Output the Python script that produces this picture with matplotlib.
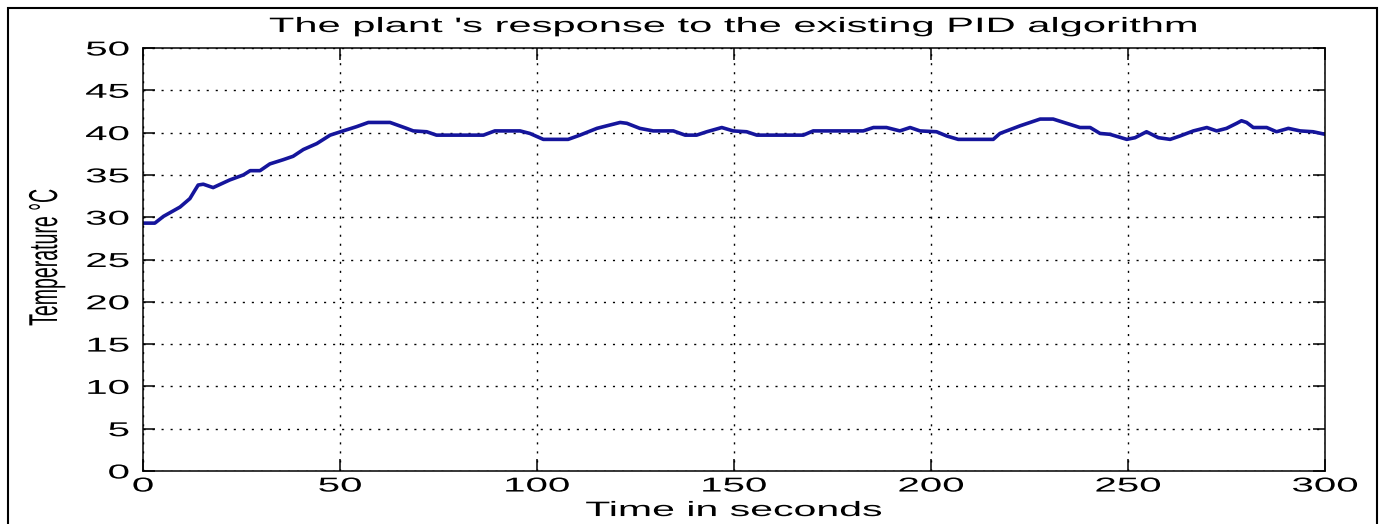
import matplotlib
matplotlib.use("Agg")
import matplotlib.pyplot as plt
import matplotlib.patheffects as pe
from matplotlib.transforms import Affine2D
from matplotlib.patches import Rectangle

# ---- data ----
time_s = [0, 3, 5.2, 9.4, 11.9, 13.2, 14, 15.3, 17.8, 22,
          25.5, 27.2, 29.7, 32.2, 35.6, 38.1, 40.7, 44.1, 47.5, 50.8,
          54.2, 57.2, 62.7, 66.9, 68.6, 72, 74.5, 86.4, 89.3, 95.7,
          98.2, 101.6, 107.9, 110.9, 115.2, 117.7, 121.1, 122.8, 126.1, 129.5,
          134.6, 137.6, 140.5, 143.1, 146.9, 149.8, 153.2, 155.8, 167.6, 170.1,
          182.8, 185.4, 188.7, 192.1, 194.7, 197.2, 201.4, 204, 206.9, 215.8,
          217.5, 222.6, 227.7, 231, 234.4, 237.8, 240.4, 242.9, 245.4, 249.7,
          251.8, 254.7, 257.7, 260.7, 263.2, 266.6, 270, 272.5, 275, 277.6,
          278.8, 280.1, 281.8, 285.2, 287.7, 290.7, 293.7, 297, 300]
temperature = [29.3, 29.3, 30.1, 31.2, 32.2, 33.2, 33.8, 33.9, 33.5, 34.4,
               35.0, 35.5, 35.5, 36.3, 36.8, 37.2, 38.0, 38.7, 39.7, 40.2,
               40.7, 41.2, 41.2, 40.5, 40.2, 40.1, 39.7, 39.7, 40.2, 40.2,
               39.9, 39.2, 39.2, 39.7, 40.5, 40.8, 41.2, 41.1, 40.5, 40.2,
               40.2, 39.7, 39.7, 40.1, 40.6, 40.2, 40.1, 39.7, 39.7, 40.2,
               40.2, 40.6, 40.6, 40.2, 40.6, 40.2, 40.1, 39.6, 39.2, 39.2,
               39.9, 40.8, 41.6, 41.6, 41.1, 40.6, 40.6, 39.9, 39.8, 39.2,
               39.4, 40.1, 39.4, 39.2, 39.6, 40.2, 40.6, 40.2, 40.5, 41.1,
               41.4, 41.2, 40.6, 40.6, 40.1, 40.5, 40.2, 40.1, 39.8]
x_ticks = [0, 50, 100, 150, 200, 250, 300]
y_ticks = [0, 5, 10, 15, 20, 25, 30, 35, 40, 45, 50]
title_text = "The plant 's response to the existing PID algorithm"
x_label = "Time in seconds"
y_label = "Temperature °C"

plt.rcParams['font.family'] = ['Liberation Sans', 'DejaVu Sans']


class Stretch(pe.AbstractPathEffect):
    """Stretch text glyphs along the text direction (text stays a Text artist)."""
    def __init__(self, sx, anchor='center'):
        super().__init__()
        self.sx = sx
        self.anchor = anchor

    def draw_path(self, renderer, gc, tpath, affine, rgbFace=None):
        cx = 0.0
        if len(tpath.vertices):
            ext = tpath.get_extents()
            if self.anchor == 'right':
                cx = ext.x1
            elif self.anchor == 'left':
                cx = ext.x0
            else:
                cx = 0.5 * (ext.x0 + ext.x1)
        pre = Affine2D().translate(-cx, 0).scale(self.sx, 1).translate(cx, 0)
        renderer.draw_path(gc, tpath, pre + affine, rgbFace)


W, H = 1386, 524
fig = plt.figure(figsize=(W / 100, H / 100), dpi=100)
fig.patch.set_facecolor('white')
ax = fig.add_axes([143 / W, 53 / H, 1182 / W, 423 / H])

ax.plot(time_s, temperature, color='#15159c', lw=2.6, solid_joinstyle='round')

ax.set_xlim(0, 300)
ax.set_ylim(0, 50)
ax.set_xticks(x_ticks)
ax.set_yticks(y_ticks)
ax.grid(True, color='black', linestyle=(0, (1.5, 5)), linewidth=1.0)
for s in ax.spines.values():
    s.set_linewidth(1.1)
    s.set_color('black')
ax.tick_params(direction='in', length=8.5, width=1.1, top=True, right=True,
               labelsize=14.5, colors='black')
ax.tick_params(axis='x', pad=4)
ax.tick_params(axis='y', pad=10)

for lab in ax.get_xticklabels():
    lab.set_path_effects([Stretch(2.0, 'center')])
for lab in ax.get_yticklabels():
    lab.set_path_effects([Stretch(2.0, 'right')])

t = ax.set_title(title_text, fontsize=15, pad=11.5)
t.set_path_effects([Stretch(2.0, 'center')])

xl = ax.set_xlabel(x_label, fontsize=15)
ax.xaxis.set_label_coords(0.5, -0.071)
xl.set_path_effects([Stretch(1.97, 'center')])

yl = ax.set_ylabel(y_label, fontsize=29)
ax.yaxis.set_label_coords(-0.066, 0.505)
yl.set_path_effects([Stretch(0.485, 'center')])

border = Rectangle((7.5 / W, -0.05), 1369.5 / W, 1 - 7.5 / H + 0.05,
                   transform=fig.transFigure, fill=False, lw=1.5,
                   edgecolor='black', clip_on=False)
fig.add_artist(border)

fig.savefig('out.png', dpi=100, facecolor='white')
